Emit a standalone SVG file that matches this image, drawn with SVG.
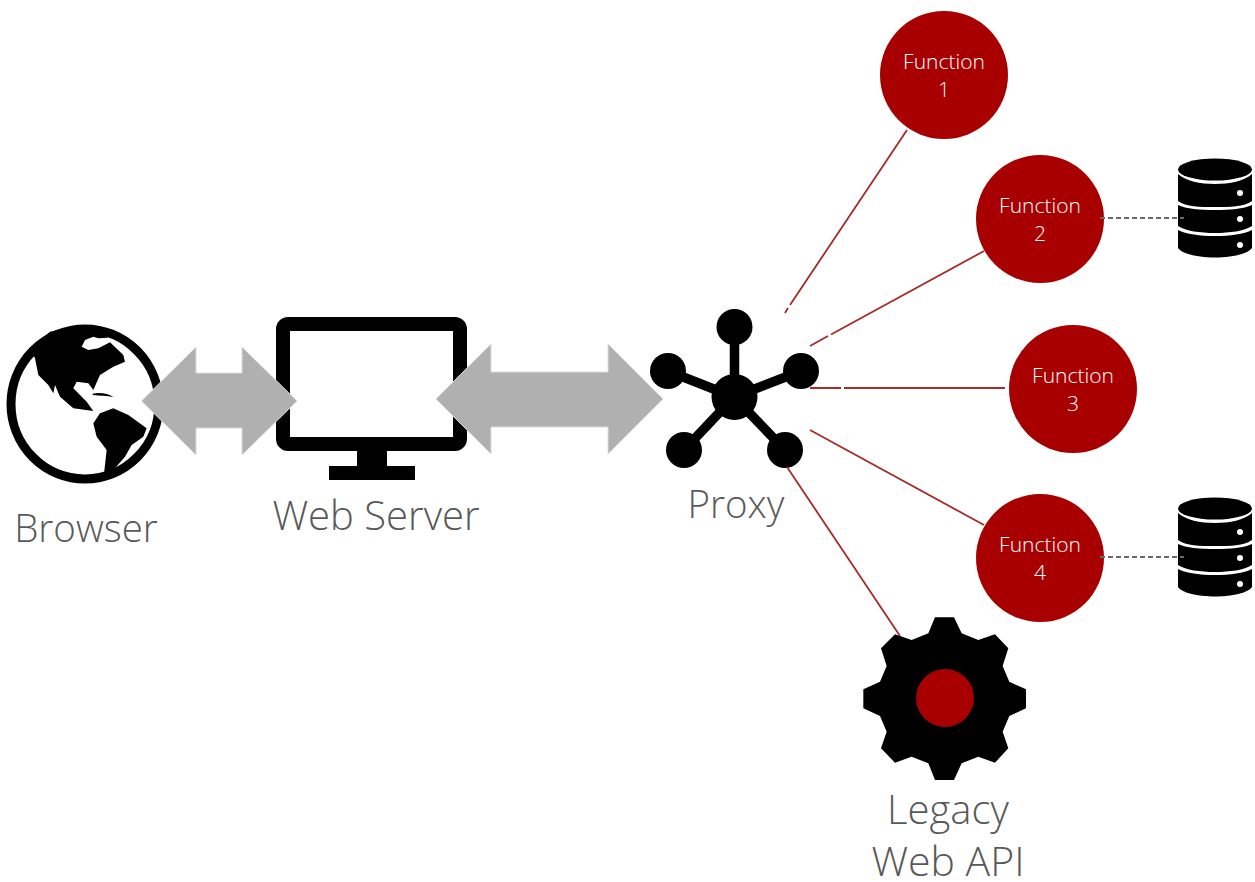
<svg xmlns="http://www.w3.org/2000/svg" width="1255" height="882" viewBox="0 0 1255 882">
<style>
.lbl{font-family:"Open Sans","Noto Sans","Liberation Sans",sans-serif;font-weight:300;font-size:38.500px;fill:#595959;text-anchor:middle}
.fn{font-family:"Open Sans","Noto Sans","Liberation Sans",sans-serif;font-weight:300;font-size:21px;fill:#fff;text-anchor:middle}
.fc{fill:#a80000}
.wire{stroke:#a52a2a;stroke-width:1.800;fill:none}
.dash{stroke:#6a6a6a;stroke-width:2;stroke-dasharray:5 3;fill:none}
.arrow{fill:#b0b0b0;stroke:#dcdcdc;stroke-width:1}
</style>
<defs>
<g id="db">
<ellipse cx="1215" cy="169.500" rx="37" ry="11"/>
<path d="M1178 174C1186 181 1200 184 1215 184S1244 181 1252 174V201C1244 207 1230 207 1215 207S1186 207 1178 201Z"/>
<path d="M1178 205C1186 209 1200 210 1215 210S1244 209 1252 205V226C1244 231 1230 233 1215 233S1186 231 1178 226Z"/>
<path d="M1178 230C1186 234 1200 236 1215 236S1244 234 1252 230V248C1248 254 1232 257.500 1215 257.500S1182 254 1178 248Z"/>
<circle cx="1240" cy="193" r="3" fill="#fff"/>
<circle cx="1240" cy="219" r="3" fill="#fff"/>
<circle cx="1240" cy="245" r="3" fill="#fff"/>
</g>
</defs>
<rect width="1255" height="882" fill="#fff"/>
<g id="browser">
<ellipse cx="85" cy="404" rx="74" ry="75" fill="#fff" stroke="#000" stroke-width="9"/>
<path transform="translate(30 325) scale(.3333)" d="M15 100L25 150L55 180L70 205L75 180L90 215L130 250L190 258L170 230L150 210L130 190L140 170L175 175L190 195L210 150L250 125L285 110L280 90L240 52L205 70L175 75L155 65L165 45L190 35L205 40L235 38L200 20L150 3L60 20L0 70Z"/>
<path transform="translate(30 325) scale(.3333)" d="M188 206C210 202 235 205 250 216C230 212 210 212 188 210Z"/>
<path transform="translate(0 300) scale(.3333)" d="M280 370L300 340L340 325L385 345L440 385L430 410L395 435L375 470L345 505L312 522L320 450L290 410Z"/>
<text class="lbl" x="86" y="542">Browser</text>
</g>
<g id="webserver">
<rect x="283" y="324" width="177" height="120" rx="5" fill="#fff" stroke="#000" stroke-width="14"/>
<rect x="357" y="451" width="30" height="16"/>
<rect x="329" y="466" width="86" height="14"/>
<text class="lbl" x="376" y="530" style="font-size:40px">Web Server</text>
</g>
<g id="proxy">
<path stroke="#000" stroke-width="9.500" d="M734.500 397V327M734 397L668 371M734 397L801 371M734 397L684 450M734 397L785 450"/>
<circle cx="734.500" cy="397" r="23"/>
<circle cx="734.500" cy="327" r="18"/>
<circle cx="668" cy="371" r="18"/>
<circle cx="801" cy="371" r="18"/>
<circle cx="684" cy="450" r="18"/>
<circle cx="785" cy="450" r="18"/>
<text class="lbl" x="736" y="518">Proxy</text>
</g>
<g id="function1"><circle class="fc" cx="944" cy="75" r="64"/><text class="fn" x="944" y="69">Function</text><text class="fn" x="944" y="97">1</text></g>
<g id="function2"><circle class="fc" cx="1040" cy="219" r="64"/><text class="fn" x="1040" y="213">Function</text><text class="fn" x="1040" y="241">2</text></g>
<g id="function3"><circle class="fc" cx="1073" cy="389" r="64"/><text class="fn" x="1073" y="383">Function</text><text class="fn" x="1073" y="411">3</text></g>
<g id="function4"><circle class="fc" cx="1040" cy="558" r="64"/><text class="fn" x="1040" y="552">Function</text><text class="fn" x="1040" y="580">4</text></g>
<g id="db1"><use href="#db"/></g>
<g id="db2"><use href="#db" y="339"/></g>
<g id="legacy">
<path transform="translate(850 600) scale(.3333)" d="M255 52H312L335 100L385 120L435 103L475 145L458 198L478 245L528 268V325L478 348L458 395L475 445L435 488L385 470L335 490L312 540H255L235 490L185 470L135 488L93 445L110 395L90 348L40 325V268L90 245L110 198L93 145L135 103L185 120L235 100Z"/>
<circle class="fc" cx="945" cy="698" r="29"/>
<text class="lbl" x="948" y="824" style="font-size:40px">Legacy</text>
<text class="lbl" x="948" y="876" style="font-size:41px">Web API</text>
</g>
<g id="connectors">
<path class="wire" d="M907 130L790 305M788 308L785 313"/>
<path class="wire" d="M984 251L831 334.500M828 336L810 346"/>
<path class="wire" d="M1005 388H844M841 388H810"/>
<path class="wire" d="M984 525L810 430"/>
<path class="wire" d="M900 636L787 467"/>
<path class="dash" d="M1100 218H1184"/>
<path class="dash" d="M1100 557H1184"/>
<path class="arrow" d="M141.500 401L196 347V373H242V347L297 401L242 455V428H196V455Z"/>
<path class="arrow" d="M436 399L491 344V372H608V344L663 399L608 454V427H491V454Z"/>
</g>
</svg>
